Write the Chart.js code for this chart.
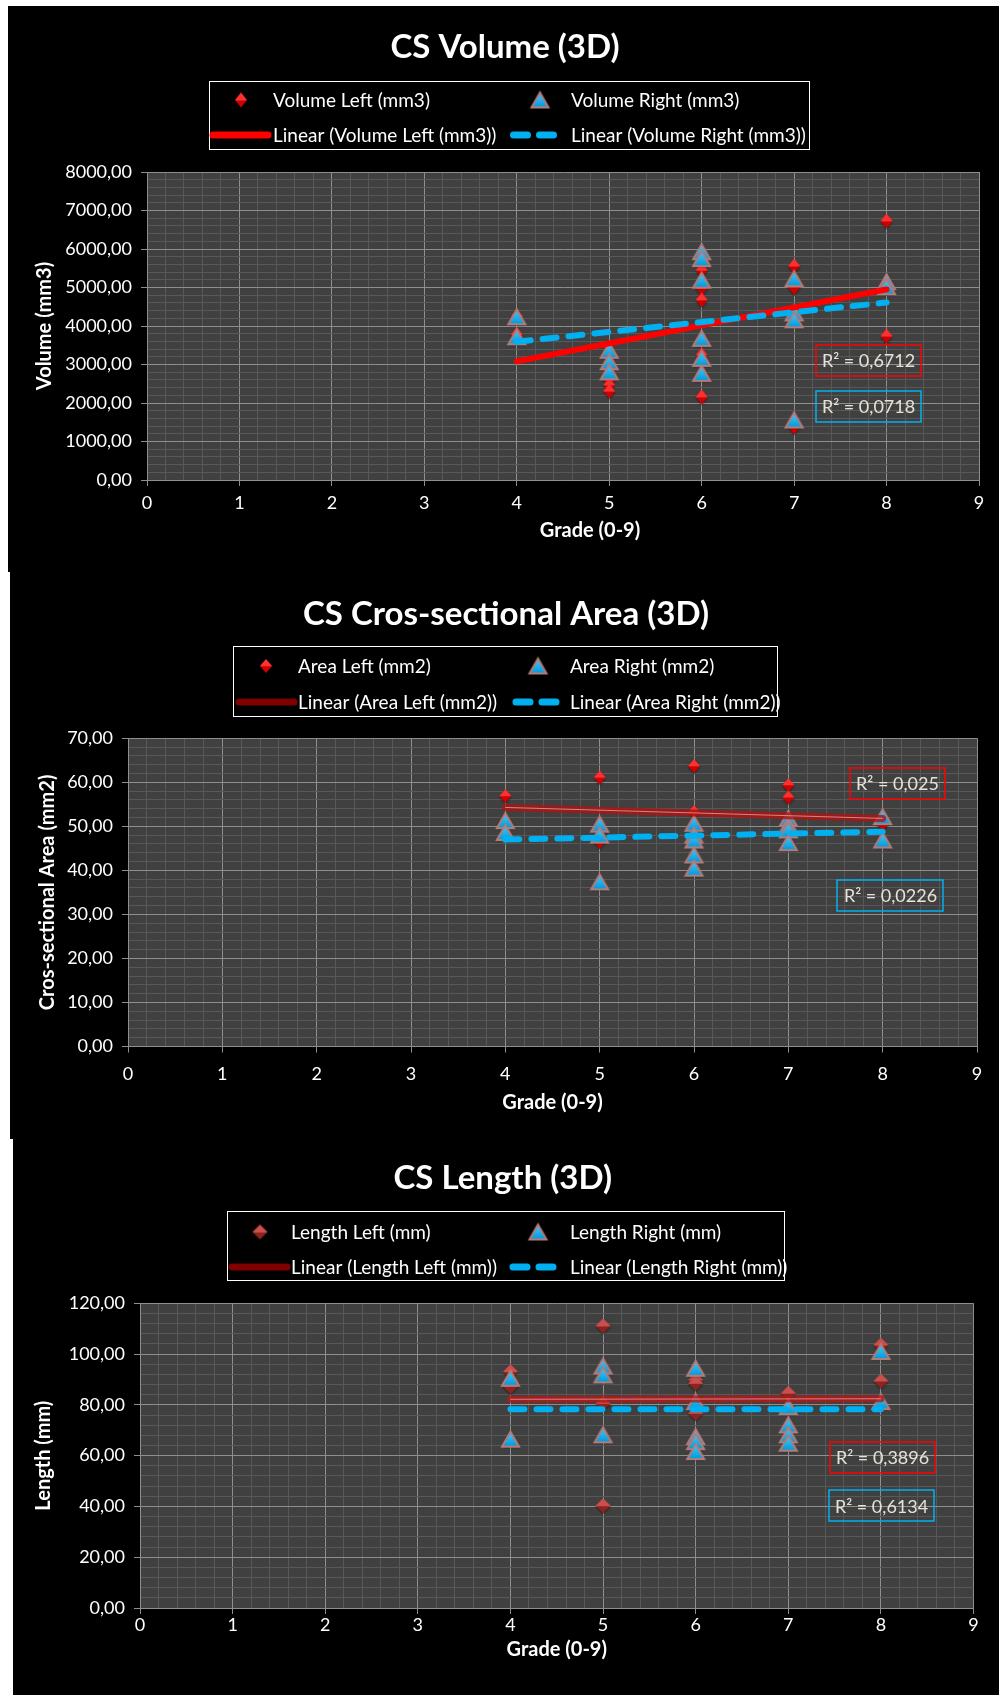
<!DOCTYPE html>
<html lang="en">
<head>
<meta charset="UTF-8">
<title>CS measurements by grade</title>
<script src="https://cdn.jsdelivr.net/npm/chart.js"></script>
<style>
    html, body { margin: 0; padding: 0; background: #ffffff; }
    body { width: 999px; height: 1695px; position: relative; overflow: hidden; }
    .panel { position: absolute; right: 0; background: #000000; }
    #p1 { left: 8px; top: 6px; height: 566px; }
    #p2 { left: 10px; top: 572px; height: 567px; }
    #p3 { left: 13px; top: 1139px; height: 556px; }
    canvas { position: absolute; left: 0; }
</style>
</head>
<body>
<div class="panel" id="p1"></div>
<div class="panel" id="p2"></div>
<div class="panel" id="p3"></div>
<canvas id="volChart" width="999" height="572" style="top:0px"></canvas>
<canvas id="areaChart" width="999" height="567" style="top:572px"></canvas>
<canvas id="lenChart" width="999" height="556" style="top:1139px"></canvas>

<script>
    // ---- CS Volume (3D) ----
    const volLabels = ["Volume Left (mm3)", "Volume Right (mm3)", "Linear (Volume Left (mm3))", "Linear (Volume Right (mm3))"];
    const volLeftGrade  = [4, 4, 5, 5, 5, 5, 6, 6, 6, 6, 6, 7, 7, 7, 8, 8, 8];
    const volLeftMm3    = [3780, 4240, 2950, 2600, 2470, 2310, 5450, 4980, 4680, 3250, 2160, 5560, 5000, 1380, 6730, 5050, 3740];
    const volRightGrade = [4, 4, 5, 5, 5, 6, 6, 6, 6, 6, 6, 7, 7, 7, 7, 8, 8];
    const volRightMm3   = [4240, 3720, 3370, 3070, 2810, 5930, 5750, 5190, 3680, 3160, 2770, 5230, 4340, 4160, 1560, 5150, 5020];
    const volTrendGrade = [4, 8];
    const volLeftTrend  = [3080, 4950];
    const volRightTrend = [3590, 4610];
    const volR2 = ["R² = 0,6712", "R² = 0,0718"];

    // ---- CS Cros-sectional Area (3D) ----
    const areaLabels = ["Area Left (mm2)", "Area Right (mm2)", "Linear (Area Left (mm2))", "Linear (Area Right (mm2))"];
    const areaLeftGrade  = [4, 4, 5, 5, 6, 6, 7, 7, 7, 8];
    const areaLeftMm2    = [56.9, 51.0, 61.1, 46.5, 63.7, 53.3, 59.4, 56.6, 50.0, 50.5];
    const areaRightGrade = [4, 4, 5, 5, 5, 6, 6, 6, 6, 6, 7, 7, 7, 7, 8, 8];
    const areaRightMm2   = [51.3, 48.6, 50.5, 48.0, 37.4, 50.7, 48.0, 46.9, 43.5, 40.5, 51.8, 50.3, 49.2, 46.3, 52.2, 46.9];
    const areaTrendGrade = [4, 8];
    const areaLeftTrend  = [54.3, 51.8];
    const areaRightTrend = [47.0, 48.8];
    const areaR2 = ["R² = 0,025", "R² = 0,0226"];

    // ---- CS Length (3D) ----
    const lenLabels = ["Length Left (mm)", "Length Right (mm)", "Linear (Length Left (mm))", "Linear (Length Right (mm))"];
    const lenLeftGrade  = [4, 4, 5, 5, 5, 6, 6, 6, 6, 7, 8, 8];
    const lenLeftMm     = [93.1, 87.2, 111.1, 80.6, 40.3, 89.8, 88.5, 79.3, 76.7, 84.6, 103.6, 89.4];
    const lenRightGrade = [4, 4, 5, 5, 5, 6, 6, 6, 6, 6, 7, 7, 7, 7, 8, 8];
    const lenRightMm    = [90.5, 66.5, 95.3, 91.8, 68.2, 94.4, 81.3, 67.5, 65.5, 61.6, 79.3, 72.1, 68.2, 64.9, 101.0, 81.3];
    const lenTrendGrade = [4, 8];
    const lenLeftTrend  = [82.2, 82.4];
    const lenRightTrend = [78.3, 78.3];
    const lenR2 = ["R² = 0,3896", "R² = 0,6134"];

    const xTitle = "Grade (0-9)";

    Chart.defaults.font.family = "Lato, 'Open Sans', sans-serif";
    Chart.defaults.color = "#ffffff";

    const PLOT_BG = "#404040";
    const GRID_MAJOR = "#8e8e8e";
    const GRID_MINOR = "#585858";
    const BLUE = "#00b0f0";

    function pts(xs, ys) { return xs.map((x, i) => ({ x: x, y: ys[i] })); }
    function isMajor(v, step) { const q = v / step; return Math.abs(q - Math.round(q)) < 1e-6; }
    function comma(v) { return v.toFixed(2).replace(".", ","); }

    // marker images (Excel-ish shaded diamond / outlined triangle)
    function diamondImg(w, h, light, dark) {
        const c = document.createElement("canvas");
        c.width = w + 6; c.height = h + 6;
        const g = c.getContext("2d");
        const cx = c.width / 2, cy = c.height / 2;
        g.shadowColor = "rgba(0,0,0,0.55)"; g.shadowBlur = 2; g.shadowOffsetY = 1;
        const grad = g.createLinearGradient(0, cy - h / 2, 0, cy + h / 2);
        grad.addColorStop(0, light); grad.addColorStop(0.5, light); grad.addColorStop(0.55, dark); grad.addColorStop(1, dark);
        g.fillStyle = grad;
        g.beginPath();
        g.moveTo(cx, cy - h / 2); g.lineTo(cx + w / 2, cy); g.lineTo(cx, cy + h / 2); g.lineTo(cx - w / 2, cy);
        g.closePath(); g.fill();
        return c;
    }
    function triangleImg(w, h) {
        const c = document.createElement("canvas");
        c.width = w + 8; c.height = h + 8;
        const g = c.getContext("2d");
        const cx = c.width / 2, cy = c.height / 2;
        g.shadowColor = "rgba(0,0,0,0.5)"; g.shadowBlur = 2; g.shadowOffsetY = 1;
        const grad = g.createLinearGradient(0, cy - h / 2, 0, cy + h / 2);
        grad.addColorStop(0, "#45c9ff"); grad.addColorStop(1, "#0099d8");
        g.beginPath();
        g.moveTo(cx, cy - h / 2); g.lineTo(cx + w / 2, cy + h / 2); g.lineTo(cx - w / 2, cy + h / 2);
        g.closePath();
        g.fillStyle = grad; g.fill();
        g.shadowColor = "transparent";
        g.strokeStyle = "#b57b78"; g.lineWidth = 2; g.stroke();
        return c;
    }

    const plotBackground = {
        id: "plotBackground",
        beforeDraw(chart, args, opts) {
            const a = chart.chartArea, ctx = chart.ctx;
            ctx.save();
            ctx.fillStyle = opts.color;
            ctx.fillRect(a.left, a.top, a.right - a.left, a.bottom - a.top);
            ctx.restore();
        }
    };

    // boxed two-column legend like the Excel one
    const boxLegend = {
        id: "boxLegend",
        afterDraw(chart, args, o) {
            const ctx = chart.ctx, ds = chart.data.datasets;
            ctx.save();
            ctx.strokeStyle = "#ffffff"; ctx.lineWidth = 1;
            ctx.strokeRect(o.box[0] + 0.5, o.box[1] + 0.5, o.box[2], o.box[3]);
            ctx.font = "19px Lato"; ctx.fillStyle = "#ffffff";
            ctx.textBaseline = "middle"; ctx.textAlign = "left";
            o.items.forEach(it => {
                const d = ds[it.ds], y = o.rows[it.row];
                if (it.marker) {
                    const img = d.pointStyle;
                    ctx.drawImage(img, o.markerX[it.col] - img.width / 2, y - img.height / 2);
                } else {
                    const span = o.lineX[it.col];
                    ctx.save();
                    ctx.strokeStyle = it.color || d.borderColor; ctx.lineWidth = 7; ctx.lineCap = "round";
                    ctx.setLineDash(d.borderDash || []);
                    ctx.beginPath(); ctx.moveTo(span[0], y); ctx.lineTo(span[1], y); ctx.stroke();
                    ctx.restore();
                }
                ctx.fillText(d.label, o.textX[it.col], y + 1);
            });
            ctx.restore();
        }
    };

    // R² labels of the trendlines, placed in data units
    const r2Boxes = {
        id: "r2Boxes",
        afterDatasetsDraw(chart, args, o) {
            const ctx = chart.ctx, xs = chart.scales.x, ys = chart.scales.y;
            ctx.save();
            ctx.font = "18px Lato"; ctx.textAlign = "center"; ctx.textBaseline = "middle";
            o.boxes.forEach(b => {
                const cx = xs.getPixelForValue(b.at[0]), cy = ys.getPixelForValue(b.at[1]);
                ctx.strokeStyle = b.color; ctx.lineWidth = 1.5;
                ctx.strokeRect(Math.round(cx - b.w / 2), Math.round(cy - b.h / 2), b.w, b.h);
                ctx.fillStyle = "#e6e2d6";
                ctx.fillText(b.text, cx, cy + 1);
            });
            ctx.restore();
        }
    };

    // x axis title, centred under the plot (the first chart's one sits a bit to the right)
    const xAxisTitle = {
        id: "xAxisTitle",
        afterDraw(chart, args, o) {
            const a = chart.chartArea, ctx = chart.ctx;
            ctx.save();
            ctx.font = "bold 20px Lato"; ctx.fillStyle = "#ffffff";
            ctx.textAlign = "center"; ctx.textBaseline = "middle";
            ctx.fillText(o.text, (a.left + a.right) / 2 + o.shift, o.y);
            ctx.restore();
        }
    };

    function makeChart(id, s) {
        const datasets = [
            { label: s.labels[0], data: pts(s.leftX, s.leftY), pointStyle: s.leftMarker, pointRadius: 5, order: 6 },
            { label: s.labels[1], data: pts(s.rightX, s.rightY), pointStyle: s.rightMarker, pointRadius: 5, order: 5 },
            { label: s.labels[2], data: pts(s.trendX, s.leftTrend), showLine: true, pointRadius: 0,
              borderColor: s.leftTrendColor, borderWidth: s.leftTrendWidth, borderCapStyle: "round", order: 3 },
            { label: s.labels[3], data: pts(s.trendX, s.rightTrend), showLine: true, pointRadius: 0,
              borderColor: BLUE, borderWidth: 6, borderDash: [14, 12], borderCapStyle: "round", order: 1 }
        ];
        if (s.highlight) {
            datasets.push({ label: "", data: pts(s.trendX, s.leftTrend), showLine: true, pointRadius: 0,
                borderColor: s.highlight, borderWidth: 1, order: 2 });
        }

        const gridOpts = step => ({
            color: c => (c.tick && isMajor(c.tick.value, step)) ? GRID_MAJOR : GRID_MINOR,
            tickColor: c => (c.tick && isMajor(c.tick.value, step)) ? GRID_MAJOR : "rgba(0,0,0,0)",
            tickLength: 6,
            lineWidth: 1
        });

        return new Chart(document.getElementById(id), {
            type: "scatter",
            data: { datasets: datasets },
            plugins: [plotBackground, boxLegend, r2Boxes, xAxisTitle],
            options: {
                responsive: false,
                maintainAspectRatio: false,
                devicePixelRatio: 1,
                animation: false,
                events: [],
                layout: { padding: s.pad },
                scales: {
                    x: {
                        type: "linear", min: 0, max: 9,
                        ticks: {
                            stepSize: 0.2, autoSkip: false, maxRotation: 0,
                            color: "#ffffff", font: { size: 18 }, padding: s.xTickPad,
                            callback: v => isMajor(v, 1) ? String(Math.round(v)) : ""
                        },
                        grid: gridOpts(1),
                        border: { color: GRID_MAJOR },
                        afterFit: sc => { sc.height = s.xHeight; }
                    },
                    y: {
                        type: "linear", min: 0, max: s.yMax,
                        ticks: {
                            stepSize: s.yMinor, autoSkip: false,
                            color: "#ffffff", font: { size: 18 }, padding: 9,
                            callback: v => isMajor(v, s.yMajor) ? comma(v) : ""
                        },
                        grid: gridOpts(s.yMajor),
                        border: { color: GRID_MAJOR },
                        title: {
                            display: true, text: s.yTitle, color: "#ffffff",
                            font: { size: 20, weight: "bold" }, padding: { top: s.yTitlePad, bottom: 0 }
                        },
                        afterFit: sc => { sc.width = s.yWidth; }
                    }
                },
                plugins: {
                    legend: { display: false },
                    tooltip: { enabled: false },
                    title: {
                        display: true, text: s.title, color: "#ffffff",
                        font: { size: 33, weight: "bold" }, padding: s.titlePad
                    },
                    plotBackground: { color: PLOT_BG },
                    boxLegend: s.legend,
                    r2Boxes: { boxes: s.r2 },
                    xAxisTitle: { text: xTitle, y: s.xTitleY, shift: s.xTitleShift }
                }
            }
        });
    }

    const legendItems = [
        { ds: 0, row: 0, col: 0, marker: true },
        { ds: 1, row: 0, col: 1, marker: true },
        { ds: 2, row: 1, col: 0 },
        { ds: 3, row: 1, col: 1 }
    ];

    makeChart("volChart", {
        title: "CS Volume (3D)", labels: volLabels,
        leftX: volLeftGrade, leftY: volLeftMm3, rightX: volRightGrade, rightY: volRightMm3,
        trendX: volTrendGrade, leftTrend: volLeftTrend, rightTrend: volRightTrend,
        leftMarker: diamondImg(12, 15, "#ff3030", "#d00000"), rightMarker: triangleImg(17, 15),
        leftTrendColor: "#ff0000", leftTrendWidth: 6,
        yMax: 8000, yMajor: 1000, yMinor: 200, yTitle: "Volume (mm3)",
        pad: { left: 31, right: 20, top: 0, bottom: 0 },
        titlePad: { top: 27.2, bottom: 105.2 },
        yWidth: 116, yTitlePad: 2, xHeight: 92, xTickPad: 6.2,
        xTitleY: 531, xTitleShift: 27,
        legend: {
            box: [209, 81, 600, 68], rows: [100, 135], markerX: [241, 540], textX: [273, 571],
            lineX: [[213, 268], [513.5, 560]], items: legendItems
        },
        r2: [
            { text: volR2[0], at: [7.805, 3100], w: 105, h: 31, color: "#ff0000" },
            { text: volR2[1], at: [7.805, 1907], w: 105, h: 31, color: BLUE }
        ]
    });

    makeChart("areaChart", {
        title: "CS Cros-sectional Area (3D)", labels: areaLabels,
        leftX: areaLeftGrade, leftY: areaLeftMm2, rightX: areaRightGrade, rightY: areaRightMm2,
        trendX: areaTrendGrade, leftTrend: areaLeftTrend, rightTrend: areaRightTrend,
        leftMarker: diamondImg(12, 14, "#ff3030", "#d00000"), rightMarker: triangleImg(17, 15),
        leftTrendColor: "rgba(170,20,20,0.8)", leftTrendWidth: 7, highlight: "rgba(255,170,170,0.7)",
        yMax: 70, yMajor: 10, yMinor: 2, yTitle: "Cros-sectional Area (mm2)",
        pad: { left: 35, right: 22, top: 0, bottom: 0 },
        titlePad: { top: 22.2, bottom: 104.5 },
        yWidth: 93, yTitlePad: 0.6, xHeight: 92.5, xTickPad: 10.7,
        xTitleY: 531, xTitleShift: 0,
        legend: {
            box: [233, 74, 544, 70], rows: [94, 130], markerX: [266, 538], textX: [298, 570],
            lineX: [[239, 294], [516, 560]],
            items: [legendItems[0], legendItems[1], { ds: 2, row: 1, col: 0, color: "#800000" }, legendItems[3]]
        },
        r2: [
            { text: areaR2[0], at: [8.157, 59.8], w: 95, h: 31, color: "#ff0000" },
            { text: areaR2[1], at: [8.083, 34.3], w: 106, h: 31, color: BLUE }
        ]
    });

    makeChart("lenChart", {
        title: "CS Length (3D)", labels: lenLabels,
        leftX: lenLeftGrade, leftY: lenLeftMm, rightX: lenRightGrade, rightY: lenRightMm,
        trendX: lenTrendGrade, leftTrend: lenLeftTrend, rightTrend: lenRightTrend,
        leftMarker: diamondImg(15, 15, "#c9504c", "#8e2422"), rightMarker: triangleImg(17, 15),
        leftTrendColor: "rgba(175,25,25,0.8)", leftTrendWidth: 7, highlight: "rgba(255,170,170,0.7)",
        yMax: 120, yMajor: 20, yMinor: 4, yTitle: "Length (mm)",
        pad: { left: 32, right: 25.5, top: 0, bottom: 0 },
        titlePad: { top: 19.2, bottom: 105.5 },
        yWidth: 108, yTitlePad: 0, xHeight: 87, xTickPad: 0.5,
        xTitleY: 511, xTitleShift: 0,
        legend: {
            box: [227, 72, 557, 69], rows: [93, 128], markerX: [260, 538], textX: [291, 570],
            lineX: [[232, 287], [513, 560]],
            items: [legendItems[0], legendItems[1], { ds: 2, row: 1, col: 0, color: "#800000" }, legendItems[3]]
        },
        r2: [
            { text: lenR2[0], at: [8.018, 59.25], w: 105, h: 31, color: "#ff0000" },
            { text: lenR2[1], at: [8.007, 40.2], w: 105, h: 31, color: BLUE }
        ]
    });
</script>
</body>
</html>
